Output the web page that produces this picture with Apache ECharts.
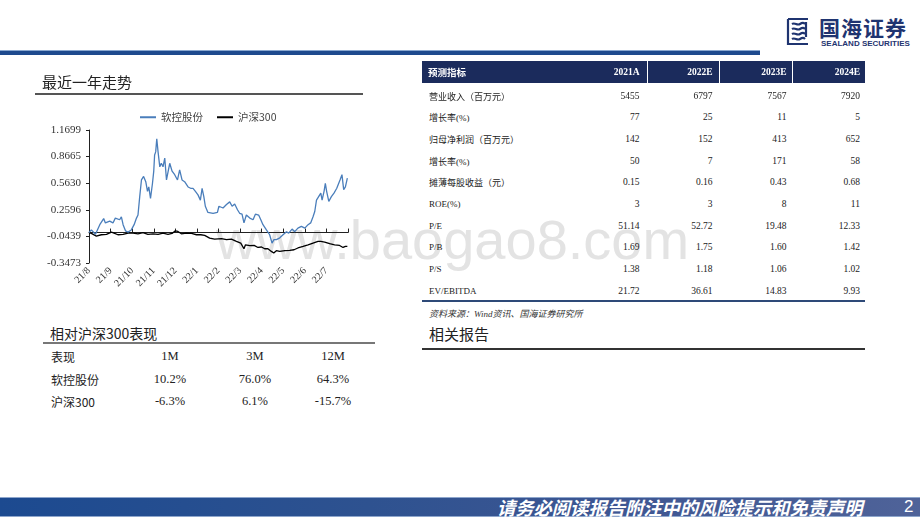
<!DOCTYPE html>
<html>
<head>
<meta charset="utf-8">
<script src="https://cdn.jsdelivr.net/npm/echarts@6/dist/echarts.min.js"></script>
<style>
html,body{margin:0;padding:0;background:#fff;}
#page{position:relative;width:920px;height:518px;overflow:hidden;background:#fff;font-family:"Noto Sans CJK SC","Liberation Sans",sans-serif;}
.t{position:absolute;white-space:nowrap;}
.serif{font-family:"Liberation Serif","Noto Sans CJK SC",serif;}
#chart{position:absolute;left:0;top:0;width:400px;height:310px;z-index:2;}
#wm{position:absolute;left:216px;top:212px;font-family:"Liberation Sans",sans-serif;font-size:56px;line-height:56px;color:#e3e3e3;z-index:0;}
</style>
</head>
<body>
<div id="page">
  <div id="wm">www.baogao8.com</div>
  <div id="chart"></div>
</div>
<script>
// ---------- chart data ----------
const monthLabels = ['21/8','21/9','21/10','21/11','21/12','22/1','22/2','22/3','22/4','22/5','22/6','22/7',''];
const yTickLabels = ['-0.3473','-0.0439','0.2596','0.5630','0.8665','1.1699'];
const yMin = -0.3473, yMax = 1.1699;
const seriesNames = ['软控股份','沪深300'];
// positions in months since start of 2021/8
const stockX = [0,0.11,0.30,0.50,0.68,0.76,0.96,1.11,1.22,1.42,1.50,1.58,1.69,1.81,1.96,2.09,2.20,2.27,2.35,2.43,2.53,2.63,2.71,2.77,2.85,2.94,3.00,3.04,3.09,3.14,3.20,3.28,3.35,3.43,3.51,3.59,3.66,3.74,3.85,3.97,4.10,4.20,4.31,4.43,4.59,4.71,4.82,4.93,5.05,5.16,5.24,5.32,5.39,5.51,5.75,5.95,6.02,6.21,6.37,6.52,6.63,6.75,6.88,6.98,7.09,7.18,7.29,7.45,7.60,7.71,7.86,7.96,8.06,8.22,8.37,8.48,8.57,8.68,8.84,8.99,9.15,9.25,9.41,9.53,9.68,9.84,10.00,10.15,10.27,10.38,10.46,10.54,10.64,10.74,10.80,10.89,10.95,11.01,11.11,11.23,11.35,11.48,11.57,11.63,11.72,11.80,11.88,11.97];
const stockY = [0,0.03,-0.02,0.09,0.16,0.11,0.13,0.11,0.165,0.146,0.18,0.09,0.02,0.005,0.03,0.09,0.165,0.20,0.41,0.60,0.64,0.58,0.47,0.52,0.39,0.56,0.70,0.885,0.92,1.07,0.92,0.75,0.79,0.75,0.85,0.60,0.62,0.79,0.70,0.66,0.60,0.715,0.60,0.58,0.52,0.505,0.505,0.47,0.43,0.37,0.505,0.41,0.30,0.23,0.22,0.23,0.30,0.28,0.32,0.35,0.30,0.325,0.26,0.22,0.21,0.11,0.20,0.165,0.146,0.21,0.20,0.146,0.09,0.03,-0.025,-0.12,-0.08,-0.08,-0.06,-0.025,0.01,-0.006,0.04,0.01,0.05,0.07,0.05,0.09,0.11,0.18,0.24,0.37,0.41,0.45,0.37,0.47,0.56,0.47,0.355,0.41,0.45,0.505,0.49,0.60,0.66,0.49,0.52,0.62];
const indexX = [0,0.11,0.34,0.57,0.81,1.04,1.16,1.34,1.58,1.81,2.04,2.27,2.50,2.73,2.97,3.20,3.43,3.66,3.85,4.00,4.12,4.28,4.51,4.75,4.98,5.18,5.36,5.59,5.82,6.14,6.37,6.60,6.83,7.03,7.18,7.25,7.45,7.65,7.83,7.99,8.14,8.29,8.45,8.56,8.68,8.84,9.07,9.30,9.50,9.68,9.92,10.15,10.38,10.61,10.74,10.92,11.15,11.38,11.61,11.77,11.88,11.97];
const indexY = [0,-0.01,-0.04,-0.025,-0.02,0.005,-0.006,-0.025,-0.02,-0.006,-0.006,-0.014,0.0,-0.02,-0.014,-0.02,-0.006,-0.02,-0.01,0.02,0.013,-0.014,-0.006,-0.01,-0.025,-0.025,-0.033,-0.063,-0.075,-0.07,-0.08,-0.075,-0.10,-0.12,-0.185,-0.14,-0.15,-0.147,-0.17,-0.165,-0.185,-0.185,-0.215,-0.233,-0.207,-0.215,-0.207,-0.204,-0.196,-0.176,-0.158,-0.14,-0.12,-0.10,-0.10,-0.108,-0.127,-0.14,-0.147,-0.17,-0.158,-0.158];

// ---------- table data ----------
const perfHeader = ['表现','1M','3M','12M'];
const perfRows = [['软控股份','10.2%','76.0%','64.3%'],['沪深300','-6.3%','6.1%','-15.7%']];
const fcHeader = ['预测指标','2021A','2022E','2023E','2024E'];
const fcLabels = ['营业收入（百万元）','增长率(%)','归母净利润（百万元）','增长率(%)','摊薄每股收益（元）','ROE(%)','P/E','P/B','P/S','EV/EBITDA'];
const fcValues = [
  ['5455','6797','7567','7920'],
  ['77','25','11','5'],
  ['142','152','413','652'],
  ['50','7','171','58'],
  ['0.15','0.16','0.43','0.68'],
  ['3','3','8','11'],
  ['51.14','52.72','19.48','12.33'],
  ['1.69','1.75','1.60','1.42'],
  ['1.38','1.18','1.06','1.02'],
  ['21.72','36.61','14.83','9.93']
];

// ---------- page furniture ----------
const page = document.getElementById('page');
function box(x,y,w,h,css){const d=document.createElement('div');d.style.cssText=`position:absolute;left:${x}px;top:${y}px;width:${w}px;height:${h}px;${css||''}`;page.appendChild(d);return d;}
function txt(x,y,s,css,align,cls){
  const d=document.createElement('div');d.className='t '+(cls||'');d.textContent=s;
  const tx=align==='right'?'-100%':align==='center'?'-50%':'0';
  d.style.cssText=`left:${x}px;top:${y}px;transform:translate(${tx},-50%);z-index:3;${css||''}`;
  page.appendChild(d);return d;
}
// top bar
box(0,50,760,5,'background:#1e4a8e;border-top:1px solid #8aa8d0;box-sizing:border-box;');
// logo
const logo=document.createElement('div');
logo.style.cssText='position:absolute;left:786px;top:17px;width:24px;height:29px;z-index:3;';
logo.innerHTML='<svg width="24" height="29" viewBox="0 0 24 29"><g fill="none" stroke="#1f3470" stroke-width="2.2"><path d="M2 2h20M2 2v25h20"/><path d="M6 7c3-2 5 2 8 0s4-1 5 0"/><path d="M6 12c3-2 5 2 8 0s4-1 5 0"/><path d="M6 17c3-2 5 2 8 0s4-1 5 0"/><path d="M6 22c3-2 5 2 8 0s4-1 5 0"/><path d="M20 5v15"/></g></svg>';
page.appendChild(logo);
txt(819,27,'国海证券','font-size:21px;font-weight:bold;color:#1f3470;letter-spacing:1px;');
txt(821,43,'SEALAND SECURITIES','font-family:"Liberation Sans",sans-serif;font-size:8px;font-weight:bold;color:#1f3470;');

// left titles
txt(42,81,'最近一年走势','font-size:15px;color:#222;');
box(35,93,328,2,'background:#555;');
txt(50,333,'相对沪深300表现','font-size:14px;color:#222;');
box(43,342,332,2,'background:#777;');
const perfCols=[170,255,333];
txt(51,356,perfHeader[0],'font-size:12px;color:#222;');
perfHeader.slice(1).forEach((h,i)=>txt(perfCols[i],356,h,'font-size:12.5px;color:#222;','center','serif'));
perfRows.forEach((r,ri)=>{
  const y=379+ri*22;
  txt(51,y,r[0],'font-size:12px;color:#222;');
  r.slice(1).forEach((v,i)=>txt(perfCols[i],y,v,'font-size:12.5px;color:#222;','center','serif'));
});

// right table
box(422,61,443,21.5,'background:#1b2b5c;z-index:1;');
[647,718.5,792].forEach(x=>box(x,61,1,21.5,'background:#fff;z-index:2;'));
const colRight=[639.5,712.5,786.5,860];
txt(428,72,fcHeader[0],'font-size:9.5px;font-weight:bold;color:#fff;');
fcHeader.slice(1).forEach((h,i)=>txt(colRight[i],72,h,'font-size:9.5px;font-weight:bold;color:#fff;','right','serif'));
fcLabels.forEach((l,ri)=>{
  const y=95.5+ri*21.7;
  txt(429,y,l,'font-size:9px;color:#222;','left','serif');
  fcValues[ri].forEach((v,i)=>txt(colRight[i],y,v,'font-size:9.5px;color:#222;','right','serif'));
});
box(422,300,443,2,'background:#2e4a78;');
txt(429,312.5,'资料来源：Wind资讯、国海证券研究所','font-size:9px;font-style:italic;color:#333;','left','serif');
txt(429,333,'相关报告','font-size:15px;color:#222;');
box(422,348,443,1.5,'background:#333;');

// footer
box(0,497,920,20,'background:linear-gradient(to right,#1c4a90 0%,#2e5290 40%,#3f5793 70%,#4f6399 100%);border-top:1px solid #8ea6cc;border-bottom:1px solid #8ea6cc;box-sizing:border-box;');
txt(497,507,'请务必阅读报告附注中的风险提示和免责声明','font-size:18.3px;font-style:italic;font-weight:bold;color:#fff;');
txt(904,507,'2','font-family:"Liberation Sans",sans-serif;font-size:17px;color:#fff;');

// ---------- chart ----------
const chart = echarts.init(document.getElementById('chart'), null, {renderer:'canvas'});
const yStep = (yMax - yMin) / (yTickLabels.length - 1);
chart.setOption({
  animation:false,
  backgroundColor:'transparent',
  legend:{
    left:135, top:107,
    itemWidth:16, itemHeight:2, itemGap:14,
    icon:'rect',
    textStyle:{fontSize:10.5,color:'#444',fontFamily:'"Noto Sans CJK SC","Liberation Serif",sans-serif'},
    data:seriesNames
  },
  grid:{left:89, right:52, top:130, bottom:47},
  xAxis:{
    type:'value', min:0, max:monthLabels.length-1, interval:1,
    axisLine:{lineStyle:{color:'#222',width:1}},
    axisTick:{inside:true,length:4,lineStyle:{color:'#222'}},
    splitLine:{show:false},
    axisLabel:{
      rotate:45, margin:6, fontSize:10, color:'#333', fontFamily:'"Liberation Serif",serif',
      formatter:v=>monthLabels[Math.round(v)]||''
    }
  },
  yAxis:{
    type:'value', min:yMin, max:yMax, interval:yStep,
    axisLine:{show:true,lineStyle:{color:'#222',width:1}},
    axisTick:{show:true,length:3,lineStyle:{color:'#222'}},
    splitLine:{show:false},
    axisLabel:{
      margin:8, fontSize:11, color:'#333', fontFamily:'"Liberation Serif",serif',
      formatter:v=>yTickLabels[Math.round((v-yMin)/yStep)]||''
    }
  },
  series:[
    {name:seriesNames[0],type:'line',symbol:'none',lineStyle:{color:'#4a7ebb',width:1.3},itemStyle:{color:'#4a7ebb'},
     data:stockX.map((x,i)=>[x,stockY[i]]),z:3},
    {name:seriesNames[1],type:'line',symbol:'none',lineStyle:{color:'#000',width:1.3},itemStyle:{color:'#000'},
     data:indexX.map((x,i)=>[x,indexY[i]]),z:2}
  ]
});
</script>
</body>
</html>
